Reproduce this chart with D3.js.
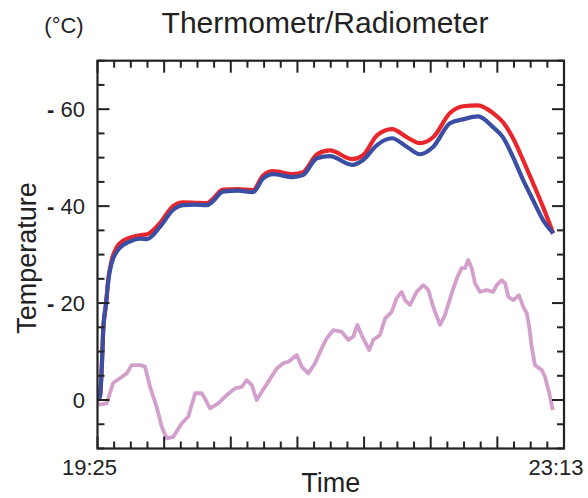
<!DOCTYPE html>
<html>
<head>
<meta charset="utf-8">
<script src="https://cdn.jsdelivr.net/npm/d3@7"></script>
<style>
  html, body { margin: 0; padding: 0; background: #fff; }
  svg { display: block; font-family: "Liberation Sans", Arial, sans-serif; }
</style>
</head>
<body>
<svg id="chart" width="588" height="498"></svg>
<script>
// ---- data ----
const title = "Thermometr/Radiometer";
const unitLabel = "(°C)";
const xTitle = "Time";
const yTitle = "Temperature";
const timeLabels = ["19:25", "23:13"];
const tempDomain = [-10, 70];
const tempTicks = [0, 20, 40, 60];

// minutes after 19:25
const sensorTime = [0, 1.2, 2.1, 2.8, 4.2, 5.3, 6.9, 9.4, 12.6, 17.5, 20.8, 24.2, 30.5, 36.9, 41.8, 47.7, 53.5, 56.4, 61.3, 68.6, 76, 80.9, 85.8, 95.5, 100.4, 107.3, 113.6, 124.4, 129.8, 136.6, 143.9, 151.3, 157.6, 164, 172.3, 178.6, 186, 193.3, 198.2, 203.1, 208, 212.9, 217.8, 222.7];
const thermometer = [0, 0.7, 6.9, 14.4, 20, 25, 28.8, 31.5, 32.9, 33.7, 34, 34.2, 36.5, 40, 40.8, 40.7, 40.6, 41.5, 43.4, 43.5, 43.3, 46.3, 47.2, 46.6, 47, 50.7, 51.5, 49.7, 50.5, 54.6, 55.9, 54.2, 53, 54.2, 59.2, 60.6, 60.8, 59.2, 57.3, 54, 49.5, 44.7, 39.8, 34.4];
const radiometer = [0, 0.7, 6.9, 14.4, 19.9, 24.7, 28.2, 30.6, 32, 33, 33.3, 33.2, 35.7, 39.2, 40.2, 40.3, 40.2, 41, 43, 43.2, 42.9, 45.7, 46.6, 46, 46.4, 49.9, 50.3, 48.5, 49.5, 52.6, 54, 52.2, 50.7, 52.2, 57.1, 57.9, 58.5, 56.3, 54.2, 50.1, 45.4, 41.2, 37.1, 34.4];

const diffTime = [0, 4.5, 7.6, 11, 14.3, 16.7, 20.8, 23.2, 25.7, 28.9, 31.4, 33.8, 37, 41.2, 44.4, 47.7, 50.9, 52.5, 55, 59, 63.1, 67.2, 70.5, 72.9, 75.4, 77.8, 80.3, 83.5, 87.6, 90.8, 93.3, 97.4, 99.8, 103, 106.3, 109.6, 112, 115.2, 119.3, 122.6, 125, 127, 129.1, 132.8, 134.8, 138.1, 140.5, 143.8, 146.2, 148.7, 150.3, 152.7, 156, 159.2, 161.7, 164.1, 167.4, 169.8, 173.1, 175.6, 178, 179.6, 181.2, 182.9, 184.5, 186.9, 190.2, 193.4, 195.1, 197.5, 199.2, 200.8, 203.2, 206, 208.1, 209.8, 211, 212.2, 213.8, 217.1, 218.7, 220.8, 222.5];
const difference = [-1, -0.7, 3.5, 4.5, 5.5, 7.2, 7.2, 6.9, 2.7, -1.4, -5.5, -7.9, -7.6, -4.8, -3.4, 1.4, 1.4, 0.3, -1.7, -0.7, 1.0, 2.4, 2.7, 4.1, 3.1, 0, 1.7, 3.8, 6.5, 7.6, 7.9, 9.3, 6.9, 5.5, 7.6, 10.7, 12.7, 14.4, 14.1, 12.4, 13.1, 15.5, 13.4, 10.3, 12.4, 13.4, 16.8, 18.2, 21.0, 22.3, 20.6, 19.6, 22.3, 23.7, 22.7, 19.2, 15.5, 17.5, 22.0, 25.1, 27.2, 27.2, 28.9, 27.2, 24.1, 22.3, 22.7, 22.3, 23.7, 24.7, 24.1, 21.3, 20.6, 21.6, 19.2, 17.9, 15.1, 11.0, 7.2, 6.2, 4.8, 1.4, -2.1];

// ---- layout ----
const svg = d3.select("#chart");
const pL = 97.5, pR = 564, pT = 60.7, pB = 448.5;
const ink = "#222";

const toMin = s => { const [h, m] = s.split(":").map(Number); return h * 60 + m; };
const t0 = toMin(timeLabels[0]), t1 = toMin(timeLabels[1]);

const x = d3.scaleLinear().domain([0, t1 - t0]).range([pL, pR]);
const y = d3.scaleLinear().domain(tempDomain).range([pB, pT]);

// tick positions: 7 major intervals, 4 minor per major; y: major 20, minor 5
const nMajor = 7, nMinorPer = 4;
const xMinor = d3.range(nMajor * nMinorPer + 1).map(i => i * (t1 - t0) / (nMajor * nMinorPer));
const yMinor = d3.range(tempDomain[0], tempDomain[1] + 0.1, 5);
const majLen = 12, minLen = 7;

// clip
svg.append("defs").append("clipPath").attr("id", "clip")
  .append("rect").attr("x", pL).attr("y", pT).attr("width", pR - pL).attr("height", pB - pT);

// series
const lineOf = (times, vals, curve) => d3.line()
  .x((d, i) => x(times[i])).y(d => y(d)).curve(curve)(vals);

const plot = svg.append("g").attr("clip-path", "url(#clip)");
plot.append("path").attr("d", lineOf(diffTime, difference, d3.curveLinear))
  .attr("fill", "none").attr("stroke", "#d3a0cd").attr("stroke-width", 3.8).attr("stroke-linejoin", "round");
plot.append("path").attr("d", lineOf(sensorTime, thermometer, d3.curveMonotoneX))
  .attr("fill", "none").attr("stroke", "#e8262b").attr("stroke-width", 4.2).attr("stroke-linejoin", "round");
plot.append("path").attr("d", lineOf(sensorTime, radiometer, d3.curveMonotoneX))
  .attr("fill", "none").attr("stroke", "#3a4ea4").attr("stroke-width", 4.2).attr("stroke-linejoin", "round");

// ticks (inward on all four sides)
const tk = svg.append("g").attr("stroke", ink).attr("stroke-width", 2);
xMinor.forEach((v, i) => {
  const len = (i % nMinorPer === 0) ? majLen : minLen;
  tk.append("line").attr("x1", x(v)).attr("x2", x(v)).attr("y1", pB).attr("y2", pB - len);
  tk.append("line").attr("x1", x(v)).attr("x2", x(v)).attr("y1", pT).attr("y2", pT + len);
});
yMinor.forEach(v => {
  const len = (v % 20 === 0) ? majLen : minLen;
  tk.append("line").attr("x1", pL).attr("x2", pL + len).attr("y1", y(v)).attr("y2", y(v));
  tk.append("line").attr("x1", pR).attr("x2", pR - len).attr("y1", y(v)).attr("y2", y(v));
});

// frame
svg.append("rect").attr("x", pL).attr("y", pT).attr("width", pR - pL).attr("height", pB - pT)
  .attr("fill", "none").attr("stroke", ink).attr("stroke-width", 2.2);

// y labels ("- 60" style, with a heavy dash)
const yl = svg.append("g").selectAll("text").data(tempTicks).join("text")
  .attr("x", 85).attr("y", d => y(d)).attr("dy", "0.36em")
  .attr("text-anchor", "end").attr("font-size", 22).attr("fill", ink);
yl.filter(d => d !== 0).append("tspan").attr("font-weight", "bold").text("-");
yl.append("tspan").text(d => d === 0 ? "0" : " " + d);

// x labels
svg.append("g").selectAll("text").data(timeLabels).join("text")
  .attr("x", (d, i) => x(i === 0 ? 0 : t1 - t0) - 8).attr("y", 475)
  .attr("text-anchor", "middle").attr("font-size", 22).attr("fill", ink)
  .text(d => d);

// titles
svg.append("text").attr("x", 325).attr("y", 33).attr("text-anchor", "middle")
  .attr("font-size", 30).attr("fill", ink).text(title);
svg.append("text").attr("x", 64).attr("y", 33).attr("text-anchor", "middle")
  .attr("font-size", 22).attr("fill", ink).text(unitLabel);
svg.append("text").attr("x", (pL + pR) / 2).attr("y", 492).attr("text-anchor", "middle")
  .attr("font-size", 27).attr("fill", ink).text(xTitle);
svg.append("text").attr("transform", "translate(36,258) rotate(-90)").attr("text-anchor", "middle")
  .attr("font-size", 27).attr("fill", ink).text(yTitle);
</script>
</body>
</html>
